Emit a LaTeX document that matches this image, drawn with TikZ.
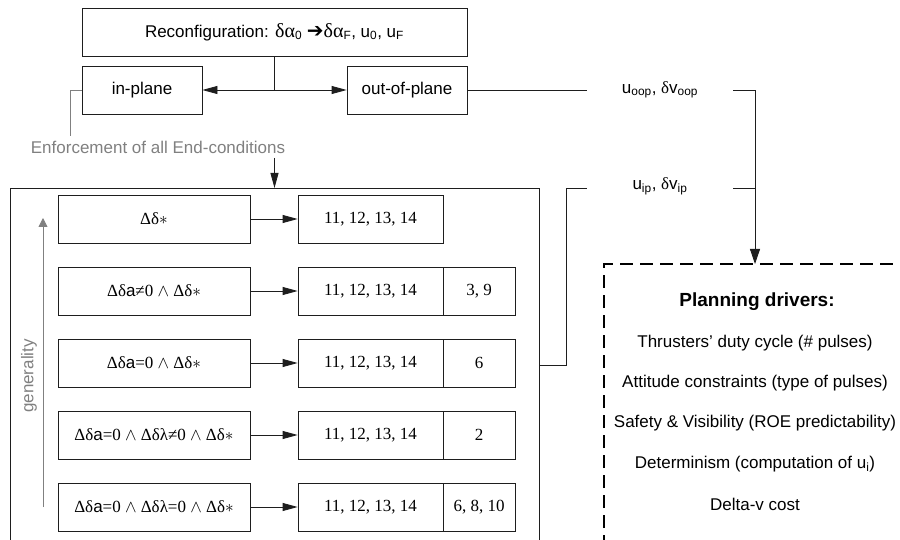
\documentclass[tikz,border=0pt]{standalone}
\usepackage{fontspec}
\setmainfont{Liberation Sans}
\newfontfamily\tnr{Liberation Serif}
\newfontfamily\arl{Liberation Sans}
\newfontfamily\djv{DejaVu Sans}
\usetikzlibrary{arrows.meta}
\definecolor{txtgray}{RGB}{128,128,128}
\definecolor{lncol}{RGB}{30,30,30}
\newcommand{\sfa}{{\arl a}}
\newcommand{\bgr}[1]{{\tnr\fontsize{20}{20}\selectfont #1}}
\begin{document}
\begin{tikzpicture}[x=1pt,y=-1pt,
  every node/.style={font=\fontsize{17}{20}\selectfont},
  box/.style={draw=lncol,line width=0.8pt,inner sep=0pt,minimum height=48pt},
  lbox/.style={box,minimum width=192pt,font=\fontsize{17}{20}\selectfont\tnr},
  rbox/.style={box,minimum width=145pt,font=\fontsize{17}{20}\selectfont\tnr},
  sbox/.style={box,minimum width=72pt,font=\fontsize{17}{20}\selectfont\tnr},
  ln/.style={draw=lncol,line width=0.8pt},
  arr/.style={ln,-{Triangle[length=15pt,width=8pt]}},
  garr/.style={draw=txtgray,line width=0.8pt,-{Triangle[length=9pt,width=9pt]}},
  gtext/.style={text=txtgray,font=\fontsize{17}{20}\selectfont},
  drv/.style={font=\fontsize{17}{20}\selectfont},
  dashbox/.style={draw=black,line width=1.4pt,dash pattern=on 13pt off 7pt}
]
\useasboundingbox (0,0) rectangle (900,540);
\clip (0,0) rectangle (900,540);

% top part
\node[box,minimum width=385pt] (top) at (274.5,32) {Reconfiguration: \bgr{δα}\textsubscript{0} {\djv\fontsize{20}{20}\selectfont ➔}\bgr{δα}\textsubscript{F}, u\textsubscript{0}, u\textsubscript{F}};
\node[box,minimum width=120pt] (inp) at (142,90) {in-plane};
\node[box,minimum width=120pt] (oop) at (407,90) {out-of-plane};
\coordinate (j) at (274.5,90);
\draw[ln] (top.south) -- (j);
\draw[arr] (j) -- (inp.east);
\draw[arr] (j) -- (oop.west);

% enforcement
\coordinate (e1) at (70,136);
\draw[draw=txtgray,line width=0.8pt] (inp.west) -| (e1);
\node[gtext] (enf) at (158,147) {Enforcement of all End-conditions};
\coordinate (ea) at (274.5,158);
\coordinate (eb) at (274.5,188);
\draw[arr] (ea) -- (eb);

% outer box
\coordinate (obl) at (10,545);
\coordinate (obr) at (539,545);
\draw[ln] (obl) |- (539,188) -- (obr);

% generality
\coordinate (g1) at (43,507);
\coordinate (g2) at (43,218);
\draw[garr] (g1) -- (g2);
\node[gtext,rotate=90] (gen) at (29,376) {generality};

% rows
\node[lbox] (l1) at (154,219) {Δδ$\ast$};
\node[rbox] (r1) at (370.5,219) {11, 12, 13, 14};
\draw[arr] (l1) -- (r1);

\node[lbox] (l2) at (154,291) {Δδ\sfa≠0 $\wedge$ Δδ$\ast$};
\node[rbox] (r2) at (370.5,291) {11, 12, 13, 14};
\node[sbox] (s2) at (479,291) {3, 9};
\draw[arr] (l2) -- (r2);

\node[lbox] (l3) at (154,363) {Δδ\sfa=0 $\wedge$ Δδ$\ast$};
\node[rbox] (r3) at (370.5,363) {11, 12, 13, 14};
\node[sbox] (s3) at (479,363) {6};
\draw[arr] (l3) -- (r3);

\node[lbox] (l4) at (154,435) {Δδ\sfa=0 $\wedge$ Δδλ≠0 $\wedge$ Δδ$\ast$};
\node[rbox] (r4) at (370.5,435) {11, 12, 13, 14};
\node[sbox] (s4) at (479,435) {2};
\draw[arr] (l4) -- (r4);

\node[lbox] (l5) at (154,507) {Δδ\sfa=0 $\wedge$ Δδλ=0 $\wedge$ Δδ$\ast$};
\node[rbox] (r5) at (370.5,507) {11, 12, 13, 14};
\node[sbox] (s5) at (479,507) {6, 8, 10};
\draw[arr] (l5) -- (r5);

% oop / ip outputs
\node (uoop) at (660,90) {u\textsubscript{oop}, {\tnr δ}v\textsubscript{oop}};
\node (uip) at (660,186) {u\textsubscript{ip}, {\tnr δ}v\textsubscript{ip}};
\coordinate (o1) at (587,90);
\coordinate (o2) at (733,90);
\coordinate (i0) at (539,365);
\coordinate (i1) at (587,188);
\coordinate (i2) at (733,188);
\coordinate (i3) at (755,188);
\coordinate (dtop) at (755,264);
\draw[ln] (oop.east) -- (o1);
\draw[ln] (i0) -| (566,188) -- (i1);
\draw[ln] (i2) -- (i3);
\draw[ln,-{Triangle[length=15pt,width=10pt]}] (o2) -| (dtop);

% planning drivers
\draw[dashbox] (604,548) -- (604,264) -- (910,264);
\node[font=\fontsize{19}{22}\selectfont\bfseries] (pd) at (757,302) {Planning drivers:};
\node[drv] (d1) at (755,343) {Thrusters’ duty cycle (\# pulses)};
\node[drv] (d2) at (755,383) {Attitude constraints (type of pulses)};
\node[drv] (d3) at (755,423) {Safety \& Visibility (ROE predictability)};
\node[drv] (d4) at (755,464) {Determinism (computation of u\textsubscript{i})};
\node[drv] (d5) at (755,504) {Delta-v cost};
\end{tikzpicture}
\end{document}
